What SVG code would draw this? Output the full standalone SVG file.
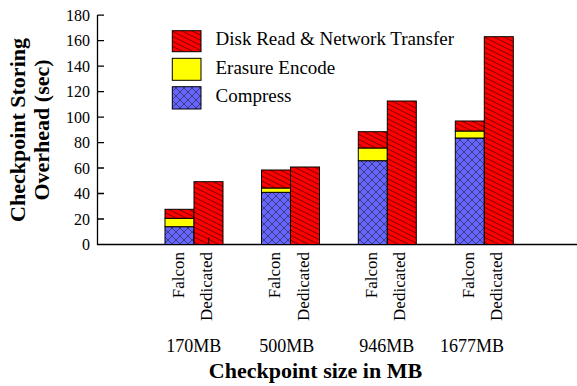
<svg xmlns="http://www.w3.org/2000/svg" width="577" height="386" viewBox="0 0 577 386">
<style>
.t{font-family:"Liberation Serif","Times New Roman",serif;fill:#000}
.tick{font-size:16px}
.lg{font-size:19px}
.cat{font-size:18px}
.bl{font-size:17px}
.ttl{font-size:22px;font-weight:bold}
.ax{stroke:#000;stroke-width:1.3;fill:none}
.red{fill:url(#pRed);stroke:#000;stroke-width:1}
.yel{fill:#ffff00;stroke:#000;stroke-width:1}
.blu{fill:url(#pBlue);stroke:#000;stroke-width:1}
</style>
<defs>
<pattern id="pRed" patternUnits="userSpaceOnUse" width="10" height="5">
<rect width="10" height="5" fill="#ff0000"/>
<path d="M-2,-1 L12,6 M-12,-1 L2,6 M8,-1 L22,6" stroke="#5a0000" stroke-width="0.8"/>
</pattern>
<pattern id="pBlue" patternUnits="userSpaceOnUse" width="8" height="8">
<rect width="8" height="8" fill="#6666ff"/>
<path d="M0,0 L8,8 M8,0 L0,8" stroke="#303060" stroke-width="0.8"/>
</pattern>
</defs>

<g id="axes">
<path class="ax" d="M97.5,15 V244.5 H577"/>
<path class="ax" d="M97.5,15.1 H104 M97.5,40.6 H104 M97.5,66.1 H104 M97.5,91.6 H104 M97.5,117.1 H104 M97.5,142.6 H104 M97.5,168 H104 M97.5,193.5 H104 M97.5,219 H104"/>
<g class="t tick" text-anchor="end">
<text x="90" y="20.6">180</text>
<text x="90" y="46.1">160</text>
<text x="90" y="71.6">140</text>
<text x="90" y="97.1">120</text>
<text x="90" y="122.6">100</text>
<text x="90" y="148.1">80</text>
<text x="90" y="173.5">60</text>
<text x="90" y="199">40</text>
<text x="90" y="224.5">20</text>
<text x="90" y="250">0</text>
</g>
<text class="t ttl" text-anchor="middle" transform="translate(25,130) rotate(-90)">Checkpoint Storing</text>
<text class="t ttl" text-anchor="middle" transform="translate(49,130) rotate(-90)">Overhead (sec)</text>
<text class="t ttl" text-anchor="middle" x="315.5" y="378">Checkpoint size in MB</text>
</g>

<g id="legend">
<rect class="red" x="172.3" y="30.7" width="28.7" height="21"/>
<text class="t lg" x="215.5" y="45">Disk Read &amp; Network Transfer</text>
<rect class="yel" x="172.3" y="58.3" width="28.7" height="22"/>
<text class="t lg" x="215.5" y="73.5">Erasure Encode</text>
<rect class="blu" x="172.3" y="86.7" width="28.7" height="22.3"/>
<text class="t lg" x="215.5" y="101.5">Compress</text>
</g>

<g id="group-170MB">
<rect class="blu" x="165" y="226.7" width="29" height="17.8"/>
<rect class="yel" x="165" y="218.3" width="29" height="8.4"/>
<rect class="red" x="165" y="209.3" width="29" height="9"/>
<rect class="red" x="194" y="181.7" width="29" height="62.8"/>
<path d="M208.7,237.5 V244.5" stroke="#000" stroke-width="1"/>
<text class="t bl" text-anchor="end" transform="translate(183.5,252) rotate(-90)">Falcon</text>
<text class="t bl" text-anchor="end" transform="translate(212,252) rotate(-90)">Dedicated</text>
<text class="t cat" text-anchor="middle" x="193.7" y="351.5">170MB</text>
</g>

<g id="group-500MB">
<rect class="blu" x="261.5" y="192.3" width="29" height="52.2"/>
<rect class="yel" x="261.5" y="188" width="29" height="4.3"/>
<rect class="red" x="261.5" y="170" width="29" height="18"/>
<rect class="red" x="290.5" y="167" width="29" height="77.5"/>
<text class="t bl" text-anchor="end" transform="translate(280,252) rotate(-90)">Falcon</text>
<text class="t bl" text-anchor="end" transform="translate(308.5,252) rotate(-90)">Dedicated</text>
<text class="t cat" text-anchor="middle" x="286.7" y="351.5">500MB</text>
</g>

<g id="group-946MB">
<rect class="blu" x="358.3" y="160.7" width="29" height="83.8"/>
<rect class="yel" x="358.3" y="148" width="29" height="12.7"/>
<rect class="red" x="358.3" y="131.7" width="29" height="16.3"/>
<rect class="red" x="387.3" y="101" width="29" height="143.5"/>
<text class="t bl" text-anchor="end" transform="translate(376.8,252) rotate(-90)">Falcon</text>
<text class="t bl" text-anchor="end" transform="translate(405.3,252) rotate(-90)">Dedicated</text>
<text class="t cat" text-anchor="middle" x="386.7" y="351.5">946MB</text>
</g>

<g id="group-1677MB">
<rect class="blu" x="455.3" y="138" width="29" height="106.5"/>
<rect class="yel" x="455.3" y="131" width="29" height="7"/>
<rect class="red" x="455.3" y="121" width="29" height="10"/>
<rect class="red" x="484.3" y="36.7" width="29" height="207.8"/>
<text class="t bl" text-anchor="end" transform="translate(473.8,252) rotate(-90)">Falcon</text>
<text class="t bl" text-anchor="end" transform="translate(502.3,252) rotate(-90)">Dedicated</text>
<text class="t cat" text-anchor="middle" x="472" y="351.5">1677MB</text>
</g>
</svg>
